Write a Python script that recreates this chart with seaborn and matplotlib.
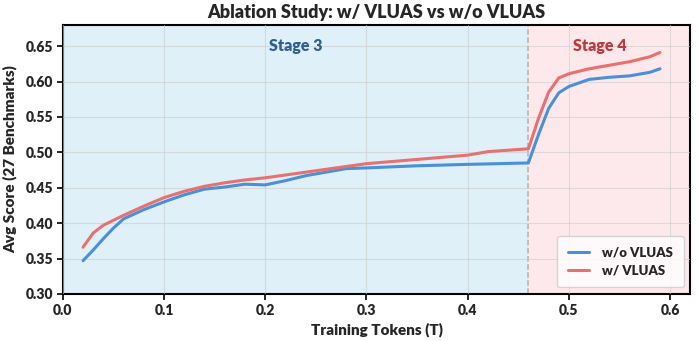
import matplotlib
matplotlib.use("Agg")
import matplotlib.pyplot as plt
import seaborn as sns
import pandas as pd

tokens_wo = [0.02, 0.03, 0.04, 0.05, 0.06, 0.08, 0.10, 0.12, 0.14, 0.16, 0.18, 0.20, 0.22, 0.24, 0.26, 0.28, 0.30, 0.35, 0.40, 0.46, 0.47, 0.48, 0.49, 0.50, 0.52, 0.54, 0.56, 0.58, 0.59]
score_wo = [0.347, 0.362, 0.378, 0.393, 0.406, 0.419, 0.430, 0.440, 0.448, 0.451, 0.455, 0.454, 0.460, 0.467, 0.472, 0.477, 0.478, 0.481, 0.483, 0.485, 0.525, 0.562, 0.584, 0.593, 0.603, 0.606, 0.608, 0.613, 0.618]
tokens_w = [0.02, 0.03, 0.04, 0.05, 0.06, 0.08, 0.10, 0.12, 0.14, 0.16, 0.18, 0.20, 0.22, 0.24, 0.26, 0.28, 0.30, 0.35, 0.40, 0.42, 0.46, 0.47, 0.48, 0.49, 0.50, 0.52, 0.54, 0.56, 0.58, 0.59]
score_w = [0.366, 0.386, 0.397, 0.404, 0.411, 0.424, 0.436, 0.445, 0.452, 0.457, 0.461, 0.464, 0.468, 0.472, 0.476, 0.480, 0.484, 0.490, 0.496, 0.501, 0.505, 0.548, 0.585, 0.605, 0.611, 0.618, 0.623, 0.628, 0.635, 0.641]

stage_boundary = 0.46
x_ticks = [0.0, 0.1, 0.2, 0.3, 0.4, 0.5, 0.6]
y_ticks = [0.30, 0.35, 0.40, 0.45, 0.50, 0.55, 0.60, 0.65]

sns.set_theme(style="whitegrid")
plt.rcParams['font.family'] = ['Lato', 'DejaVu Sans']
plt.rcParams['font.weight'] = 'heavy'

df = pd.concat([
    pd.DataFrame({"tokens": tokens_wo, "score": score_wo, "model": "w/o VLUAS"}),
    pd.DataFrame({"tokens": tokens_w, "score": score_w, "model": "w/ VLUAS"}),
])

fig = plt.figure(figsize=(6.98, 3.41), dpi=100)
ax = fig.add_axes([0.090, 0.138, 0.899, 0.789])

ax.axvspan(0.0, stage_boundary, color="#dff0f8", zorder=0)
ax.axvspan(stage_boundary, 0.62, color="#fde9ec", zorder=0)
ax.axvline(stage_boundary, color="#b0b0b0", linestyle="--", linewidth=1.1, zorder=1)

sns.lineplot(data=df, x="tokens", y="score", hue="model",
             palette={"w/o VLUAS": "#4a90d9", "w/ VLUAS": "#e8706f"},
             linewidth=2.2, ax=ax, zorder=3)

ax.set_xlim(0.0, 0.62)
ax.set_ylim(0.30, 0.68)
ax.set_xticks(x_ticks)
ax.set_yticks(y_ticks)
ax.set_xticklabels([f"{v:.1f}" for v in x_ticks], fontsize=10, fontweight="heavy")
ax.set_yticklabels([f"{v:.2f}" for v in y_ticks], fontsize=10, fontweight="heavy")
ax.grid(True, color="#cccccc", alpha=0.6, linewidth=0.8)
ax.set_axisbelow(False)
for line in ax.get_xgridlines() + ax.get_ygridlines():
    line.set_zorder(1)

for s in ax.spines.values():
    s.set_color("black")
    s.set_linewidth(1.5)
ax.tick_params(axis="both", direction="out", length=4, width=1.2, color="black", left=True, bottom=True, pad=3)

ax.set_xlabel("Training Tokens (T)", fontsize=11, fontweight="heavy", labelpad=4)
ax.set_ylabel("Avg Score (27 Benchmarks)", fontsize=11, fontweight="heavy", labelpad=6)
ax.set_title("Ablation Study: w/ VLUAS vs w/o VLUAS", fontsize=13, fontweight="heavy", pad=5)

ax.text(0.23, 0.65, "Stage 3", color="#2e6093", fontsize=11.5, fontweight="heavy", ha="center", va="center")
ax.text(0.531, 0.65, "Stage 4", color="#c0393d", fontsize=11.5, fontweight="heavy", ha="center", va="center")

leg = ax.legend(loc="lower right", frameon=True, fontsize=9.5, title=None,
                borderpad=0.8, handlelength=1.6, handletextpad=1.0, labelspacing=0.5)
leg.get_frame().set_facecolor("white")
leg.get_frame().set_edgecolor("#cccccc")
for t in leg.get_texts():
    t.set_fontweight("heavy")
for l in leg.get_lines():
    l.set_linewidth(2.2)

fig.savefig("out.png", dpi=100)
